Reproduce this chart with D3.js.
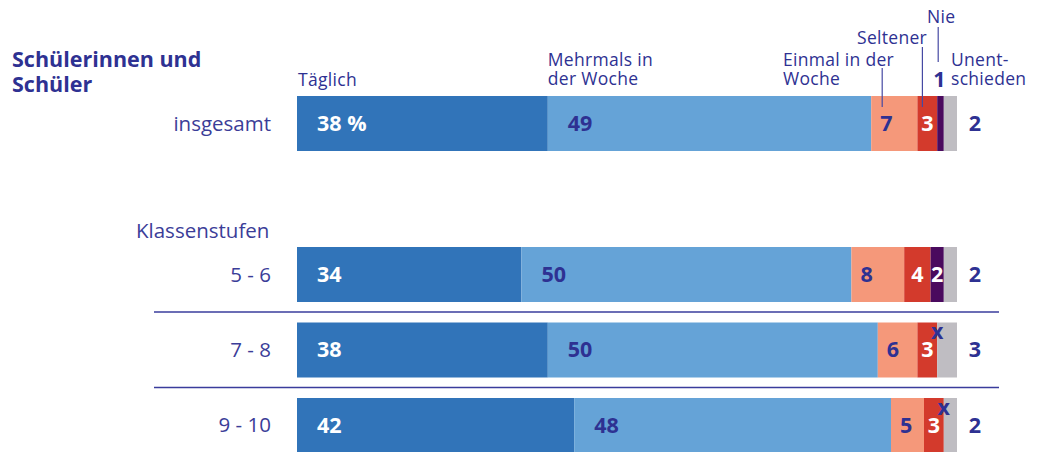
<!DOCTYPE html>
<html>
<head>
<meta charset="utf-8">
<script src="https://cdn.jsdelivr.net/npm/d3@7"></script>
<style>
  body { margin: 0; background: #fff; }
  svg { display: block; font-family: "Open Sans", sans-serif; }
</style>
</head>
<body>
<div id="chart"></div>
<script>
// Daten: Anteile in Prozent je Zeile
var rows = ["insgesamt", "5 - 6", "7 - 8", "9 - 10"];
var categories = ["Täglich", "Mehrmals in der Woche", "Einmal in der Woche", "Seltener", "Nie", "Unentschieden"];
var headerLines = [["Täglich"], ["Mehrmals in", "der Woche"], ["Einmal in der", "Woche"], ["Seltener"], ["Nie"], ["Unent-", "schieden"]];
var taeglich = [38, 34, 38, 42];
var mehrmals = [49, 50, 50, 48];
var einmal = [7, 8, 6, 5];
var seltener = [3, 4, 3, 3];
var nie = [1, 2, null, null];          // null = "x" (zu geringe Fallzahl)
var unentschieden = [2, 2, 3, 2];

var colors = ["#3174b9", "#65a3d7", "#f5987a", "#d33a2c", "#4a0a5e", "#bfbdc2"];
var labelColors = ["#fff", "#2e3192", "#2e3192", "#fff", "#fff", "#2e3192"];
var navy = "#2e3192";

var svgWidth = 1037, svgHeight = 452;

var svg = d3.select("#chart").append("svg")
  .attr("width", svgWidth)
  .attr("height", svgHeight);

// Skalen
var x = d3.scaleLinear().domain([0, 100]).range([297, 957]);
var slots = ["insgesamt", "gap", "5 - 6", "7 - 8", "9 - 10"];
var y = d3.scaleBand().domain(slots).range([96, 453]).paddingInner(0.2715).paddingOuter(0);

// Stapel bauen
var series = [taeglich, mehrmals, einmal, seltener, nie, unentschieden];
var table = rows.map(function(r, i) {
  var o = { row: r };
  categories.forEach(function(c, j) { o[c] = series[j][i] || 0; });
  return o;
});
var stack = d3.stack().keys(categories)(table);

// Trennlinien zwischen den Klassenstufen
var sepRows = ["7 - 8", "9 - 10"];
svg.selectAll("line.sep")
  .data(sepRows)
  .enter()
  .append("line")
  .attr("class", "sep")
  .attr("x1", 154).attr("x2", 999)
  .attr("y1", d => y(d) - 10.5).attr("y2", d => y(d) - 10.5)
  .attr("stroke", "#3a3c9c")
  .attr("stroke-width", 1.5);

// Balken
var groups = svg.selectAll("g.layer")
  .data(stack)
  .enter()
  .append("g")
  .attr("class", "layer")
  .attr("fill", (d, i) => colors[i]);

groups.selectAll("rect")
  .data(d => d)
  .enter()
  .append("rect")
  .attr("x", d => x(d[0]))
  .attr("y", d => y(d.data.row))
  .attr("width", d => x(d[1]) - x(d[0]))
  .attr("height", y.bandwidth());

// Wertebeschriftungen
var valueFont = 21.5;
stack.forEach(function(layer, j) {
  layer.forEach(function(d, i) {
    var v = series[j][i];
    var cy = y(d.data.row) + y.bandwidth() / 2 + 7.5;
    if (j === 4 && i === 0) return; // Nie insgesamt steht oberhalb
    if (v === null) {
      svg.append("text")
        .attr("x", x(d[0]))
        .attr("y", y(d.data.row) + 17)
        .attr("text-anchor", "middle")
        .attr("fill", navy)
        .attr("font-weight", 700)
        .attr("font-size", valueFont)
        .text("x");
      return;
    }
    var t = svg.append("text")
      .attr("y", cy)
      .attr("fill", labelColors[j])
      .attr("font-weight", 700)
      .attr("font-size", valueFont);
    if (j < 2) {
      t.attr("x", x(d[0]) + 20).attr("text-anchor", "start");
    } else if (j === 2) {
      t.attr("x", x(d[0]) + 9).attr("text-anchor", "start");
    } else if (j === 5) {
      t.attr("x", x(100) + 18).attr("text-anchor", "middle");
    } else {
      t.attr("x", (x(d[0]) + x(d[1])) / 2).attr("text-anchor", "middle");
    }
    t.text(i === 0 && j === 0 ? v + " %" : v);
  });
});

// Kopfbeschriftungen der Kategorien (über der Zeile insgesamt)
var topY = y("insgesamt");
var ins = stack.map(l => l[0]);
var headerPos = [
  { x: x(ins[0][0]) + 1, y: topY - 10 },
  { x: x(ins[1][0]), y: topY - 30 },
  { x: 783, y: topY - 30 },
  { x: 857, y: topY - 52 },
  { x: 927, y: topY - 73 },
  { x: 951, y: topY - 30 }
];
headerLines.forEach(function(lines, j) {
  var p = headerPos[j];
  var t = svg.append("text")
    .attr("x", p.x).attr("y", p.y)
    .attr("fill", navy)
    .attr("font-size", 17.5)
    .attr("letter-spacing", 0.3);
  lines.forEach(function(s, k) {
    t.append("tspan").attr("x", p.x).attr("dy", k === 0 ? 0 : 19).text(s);
  });
});

// Hinweislinien
var leaders = [
  { x: x(ins[2][0]) + 11, y1: topY - 28, y2: topY + 11 },
  { x: x(ins[3][0]) + 5, y1: topY - 49, y2: topY + 11 },
  { x: x(ins[4][0]) + 1, y1: topY - 69, y2: topY - 34 }
];
svg.selectAll("line.leader")
  .data(leaders)
  .enter()
  .append("line")
  .attr("class", "leader")
  .attr("x1", d => d.x).attr("x2", d => d.x)
  .attr("y1", d => d.y1).attr("y2", d => d.y2)
  .attr("stroke", "#4649a3")
  .attr("stroke-width", 1.2);

// Nie-Wert insgesamt oberhalb des Balkens
svg.append("text")
  .attr("x", (x(ins[4][0]) + x(ins[4][1])) / 2 - 1)
  .attr("y", topY - 9)
  .attr("text-anchor", "middle")
  .attr("fill", navy)
  .attr("font-weight", 700)
  .attr("font-size", valueFont)
  .text(nie[0]);

// Titel
var title = svg.append("text")
  .attr("x", 12).attr("y", 67)
  .attr("fill", navy)
  .attr("font-weight", 700)
  .attr("font-size", 21.5);
title.append("tspan").attr("x", 12).text("Schülerinnen und");
title.append("tspan").attr("x", 12).attr("dy", 25).text("Schüler");

// Zeilenbeschriftungen
svg.selectAll("text.rowlab")
  .data(rows)
  .enter()
  .append("text")
  .attr("class", "rowlab")
  .attr("x", 271)
  .attr("y", d => y(d) + y.bandwidth() / 2 + 7)
  .attr("text-anchor", "end")
  .attr("fill", "#3b3d98")
  .attr("font-size", 20.5)
  .text(d => d);

svg.append("text")
  .attr("x", 136)
  .attr("y", y("5 - 6") - 9)
  .attr("fill", "#3b3d98")
  .attr("font-size", 20.5)
  .text("Klassenstufen");
</script>
</body>
</html>
